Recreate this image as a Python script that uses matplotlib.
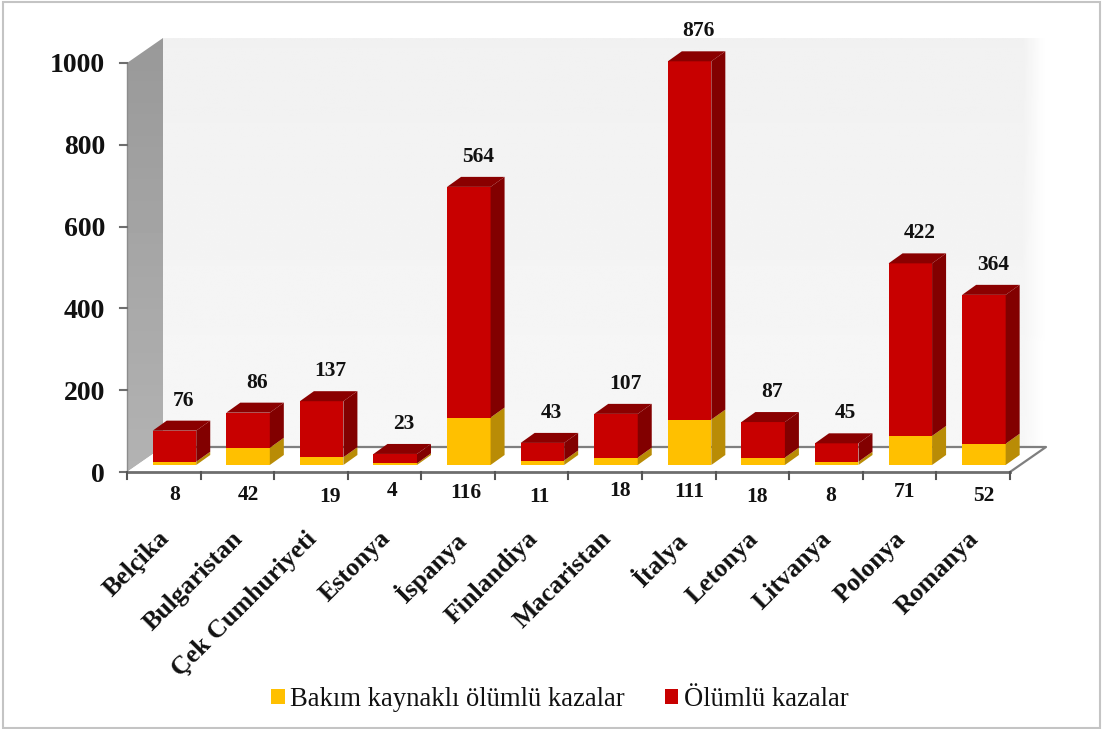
import numpy as np
import matplotlib
matplotlib.use("Agg")
import matplotlib.pyplot as plt
from matplotlib.patches import Polygon, Rectangle, Patch

countries = ["Belçika", "Bulgaristan", "Çek Cumhuriyeti", "Estonya", "İspanya", "Finlandiya",
             "Macaristan", "İtalya", "Letonya", "Litvanya", "Polonya", "Romanya"]
bakim = [8, 42, 19, 4, 116, 11, 18, 111, 18, 8, 71, 52]
olumlu = [76, 86, 137, 23, 564, 43, 107, 876, 87, 45, 422, 364]
yticks = [0, 200, 400, 600, 800, 1000]
series_names = ["Bakım kaynaklı ölümlü kazalar", "Ölümlü kazalar"]

# scanned-label jitter of the reference, in pixels
low_nudge_x = [1, 1, 9, -2, -2, -2, 5, 0, -5, -5, -5, 1]
low_nudge_y = [0, 0, -2, 4, 2, -2, 4, 3, -2, -1, 3, -1]

plt.rcParams["font.family"] = ["Liberation Serif", "DejaVu Serif"]
W, H = 1103, 729
fig = plt.figure(figsize=(W / 100, H / 100), dpi=100, facecolor="white")
L, R, T, B = 127, 1010, 63, 472
ax = fig.add_axes([L / W, 1 - B / H, (R - L) / W, (B - T) / H])
ax.axis("off")

px = 12 / (R - L)      # data x per pixel
py = 1000 / (B - T)    # data y per pixel
DX, DY = 36 * px, 25 * py   # wall depth
fig.add_artist(Rectangle((3 / W, 1 / H), (W - 6) / W, (H - 3) / H, transform=fig.transFigure,
                         fill=False, ec="#c4c4c4", lw=1.5))

# back wall with soft fade to the right
xf = np.linspace(0, 1, 400)
g = np.tile(np.clip((1 - xf) / 0.025, 0, 1) * 0.055, (60, 1))
yf = np.linspace(0, 1, 60)[:, None]
g = 1 - g * (0.6 + 0.4 * yf)
ax.imshow(g, extent=(DX, 12 + DX, DY, 1000 + DY), origin="lower", cmap="gray", vmin=0, vmax=1,
          aspect="auto", zorder=0, clip_on=False, interpolation="bilinear")

# side wall (darker at the top)
side_poly = Polygon([(0, 0), (DX, DY), (DX, 1000 + DY), (0, 1000)], closed=True, fc="none",
                    ec="none", zorder=1, clip_on=False, transform=ax.transData)
ax.add_patch(side_poly)
side_img = ax.imshow(np.linspace(0.70, 0.60, 40)[:, None], extent=(0, DX, 0, 1000 + DY),
                     origin="lower", cmap="gray", vmin=0, vmax=1, aspect="auto", zorder=1)

ax.set_xlim(0, 12)
ax.set_ylim(0, 1000)
side_img.set_clip_box(fig.bbox)
side_img.set_clip_path(side_poly)

# floor
ax.add_patch(Polygon([(0, 0), (12, 0), (12 + DX, DY), (DX, DY)], closed=True, fc="white",
                     ec="none", zorder=1, clip_on=False))
ax.plot([DX, 12 + DX, 12], [DY, DY, 0], color="#7f7f7f", lw=1.6, zorder=1.5, clip_on=False)
ax.plot([0, 12], [0, 0], color="#6e6e6e", lw=2, zorder=1.5, clip_on=False)
ax.plot([0, 0], [0, 1000], color="#8c8c8c", lw=1, zorder=1.5, clip_on=False)

# ticks
for v in yticks:
    ax.plot([-7 * px, 0], [v, v], color="#6e6e6e", lw=1.5, zorder=1.5, clip_on=False)
    ax.annotate(str(v), (0, v), xytext=(-22, -3), textcoords="offset pixels", ha="right", va="center",
                fontsize=20, fontweight="bold", color="#111111", annotation_clip=False)
for i in range(13):
    ax.plot([i, i], [0, -7 * py], color="#555555", lw=1.5, zorder=1.5, clip_on=False)

# bars
sx, sy = 10.7 * px, 7 * py     # bar base offset inside the floor
bw = 43.5 * px
ddx, ddy = 14 * px, 10 * py    # bar depth
for i, (a, b) in enumerate(zip(bakim, olumlu)):
    x = i + 0.5 + sx
    for base, h, front, side in [(sy, a, "#ffc000", "#b98c06"), (sy + a, b, "#c80000", "#820000")]:
        bar = ax.bar(x, h, bottom=base, width=bw, color=front, zorder=3 + i, clip_on=False)[0]
        x1 = bar.get_x() + bar.get_width()
        y0, y1 = bar.get_y(), bar.get_y() + bar.get_height()
        ax.add_patch(Polygon([(x1, y0), (x1 + ddx, y0 + ddy), (x1 + ddx, y1 + ddy), (x1, y1)],
                             closed=True, fc=side, ec="none", zorder=3 + i, clip_on=False))
    x0 = x - bw / 2
    top = sy + a + b
    ax.add_patch(Polygon([(x0, top), (x0 + ddx, top + ddy), (x0 + bw + ddx, top + ddy), (x0 + bw, top)],
                         closed=True, fc="#8a0000", ec="none", zorder=3 + i, clip_on=False))
    # value above the bar
    ax.annotate(str(b), (x + ddx / 2, top + ddy), xytext=(2, 20), textcoords="offset pixels",
                ha="center", va="center", fontsize=15.5, fontweight="bold", color="#111111",
                annotation_clip=False, zorder=30)
    # maintenance value below the axis
    ax.annotate(str(a), (i + 0.5, 0), xytext=(10 + low_nudge_x[i], -23 + low_nudge_y[i]),
                textcoords="offset pixels", ha="center", va="center", fontsize=15.5,
                fontweight="bold", color="#111111", annotation_clip=False, zorder=30)
    # category label
    ax.annotate(countries[i], (i + 0.5, 0), xytext=(-6, -55), textcoords="offset pixels",
                ha="right", va="top", rotation=45, rotation_mode="anchor", fontsize=18.6,
                fontweight="bold", color="#111111", annotation_clip=False, zorder=30)

handles = [Patch(fc="#ffc000", ec="none"), Patch(fc="#c80000", ec="none")]
fig.legend(handles, series_names, ncol=2, loc="center", bbox_to_anchor=(560 / W, 1 - 699 / H),
           frameon=False, fontsize=19.2, handlelength=0.49, handleheight=0.49,
           handletextpad=0.22, columnspacing=1.5, labelcolor="#111111")

fig.savefig("out.png", dpi=100)
